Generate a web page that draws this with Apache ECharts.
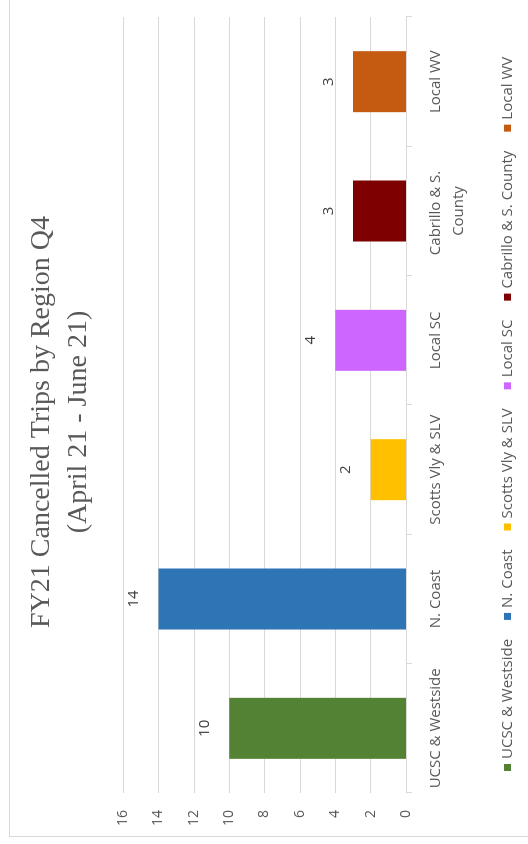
<!DOCTYPE html>
<html>
<head>
<meta charset="utf-8">
<script src="https://cdn.jsdelivr.net/npm/echarts@6/dist/echarts.min.js"></script>
<style>
  html, body { margin: 0; padding: 0; background: #ffffff; overflow: hidden; width: 528px; height: 844px; }
  #frame { position: absolute; left: 9px; top: -4px; width: 560px; height: 841px; border: 1px solid #d9d9d9; box-sizing: border-box; }
  /* landscape chart turned a quarter-turn counter-clockwise */
  #chart { position: absolute; left: 0; top: 0; width: 844px; height: 528px;
           transform-origin: 0 0; transform: rotate(-90deg) translate(-844px, 0); }
</style>
</head>
<body>
<div id="frame"></div>
<div id="chart"></div>
<script>
const titleLines = ['FY21 Cancelled Trips by Region Q4', '(April 21 - June 21)'];
const regions = ['UCSC & Westside', 'N. Coast', 'Scotts Vly & SLV', 'Local SC', 'Cabrillo & S. County', 'Local WV'];
const cancelled = [10, 14, 2, 4, 3, 3];
const regionColors = ['#548235', '#2e75b6', '#ffc000', '#cc66ff', '#7f0000', '#c55a11'];
const valueTicks = { min: 0, max: 16, step: 2 };

const labelFont = 'Open Sans, DejaVu Sans, sans-serif';

// one series per region, each holding only its own bar, stacked so bars stay centred
const series = regions.map((name, i) => ({
  name: name,
  type: 'bar',
  stack: 'regions',
  barWidth: 61,
  itemStyle: { color: regionColors[i] },
  label: {
    show: true,
    position: 'top',
    distance: 17,
    color: '#404040',
    fontFamily: labelFont,
    fontSize: 15
  },
  data: regions.map((_, j) => (j === i ? cancelled[i] : '-'))
}));

const chart = echarts.init(document.getElementById('chart'), null, { renderer: 'canvas' });
chart.setOption({
  backgroundColor: 'transparent',
  animation: false,
  title: {
    text: titleLines.join('\n'),
    left: 417,
    textAlign: 'center',
    top: 18,
    textStyle: {
      fontFamily: 'Liberation Serif, Times New Roman, serif',
      fontSize: 28,
      fontWeight: 'normal',
      color: '#595959',
      lineHeight: 37
    }
  },
  legend: {
    left: 68,
    top: 495,
    itemWidth: 7,
    itemHeight: 7,
    itemGap: 19,
    icon: 'rect',
    textStyle: { fontFamily: labelFont, fontSize: 15, color: '#595959' },
    data: regions
  },
  grid: { left: 51, right: 17, top: 123, bottom: 122 },
  xAxis: {
    type: 'category',
    data: regions,
    axisLine: { show: true, lineStyle: { color: '#d9d9d9', width: 1 } },
    axisTick: { show: true, length: 6, alignWithLabel: false, lineStyle: { color: '#d9d9d9' } },
    axisLabel: {
      interval: 0,
      margin: 18,
      width: 127,
      overflow: 'break',
      lineHeight: 23,
      fontFamily: labelFont,
      fontSize: 15,
      color: '#595959'
    },
    splitLine: { show: false }
  },
  yAxis: {
    type: 'value',
    min: valueTicks.min,
    max: valueTicks.max,
    interval: valueTicks.step,
    axisLine: { show: false },
    axisTick: { show: false },
    axisLabel: { margin: 17, fontFamily: labelFont, fontSize: 14, color: '#595959' },
    splitLine: { show: true, lineStyle: { color: '#d9d9d9', width: 1 } }
  },
  series: series
});
</script>
</body>
</html>
